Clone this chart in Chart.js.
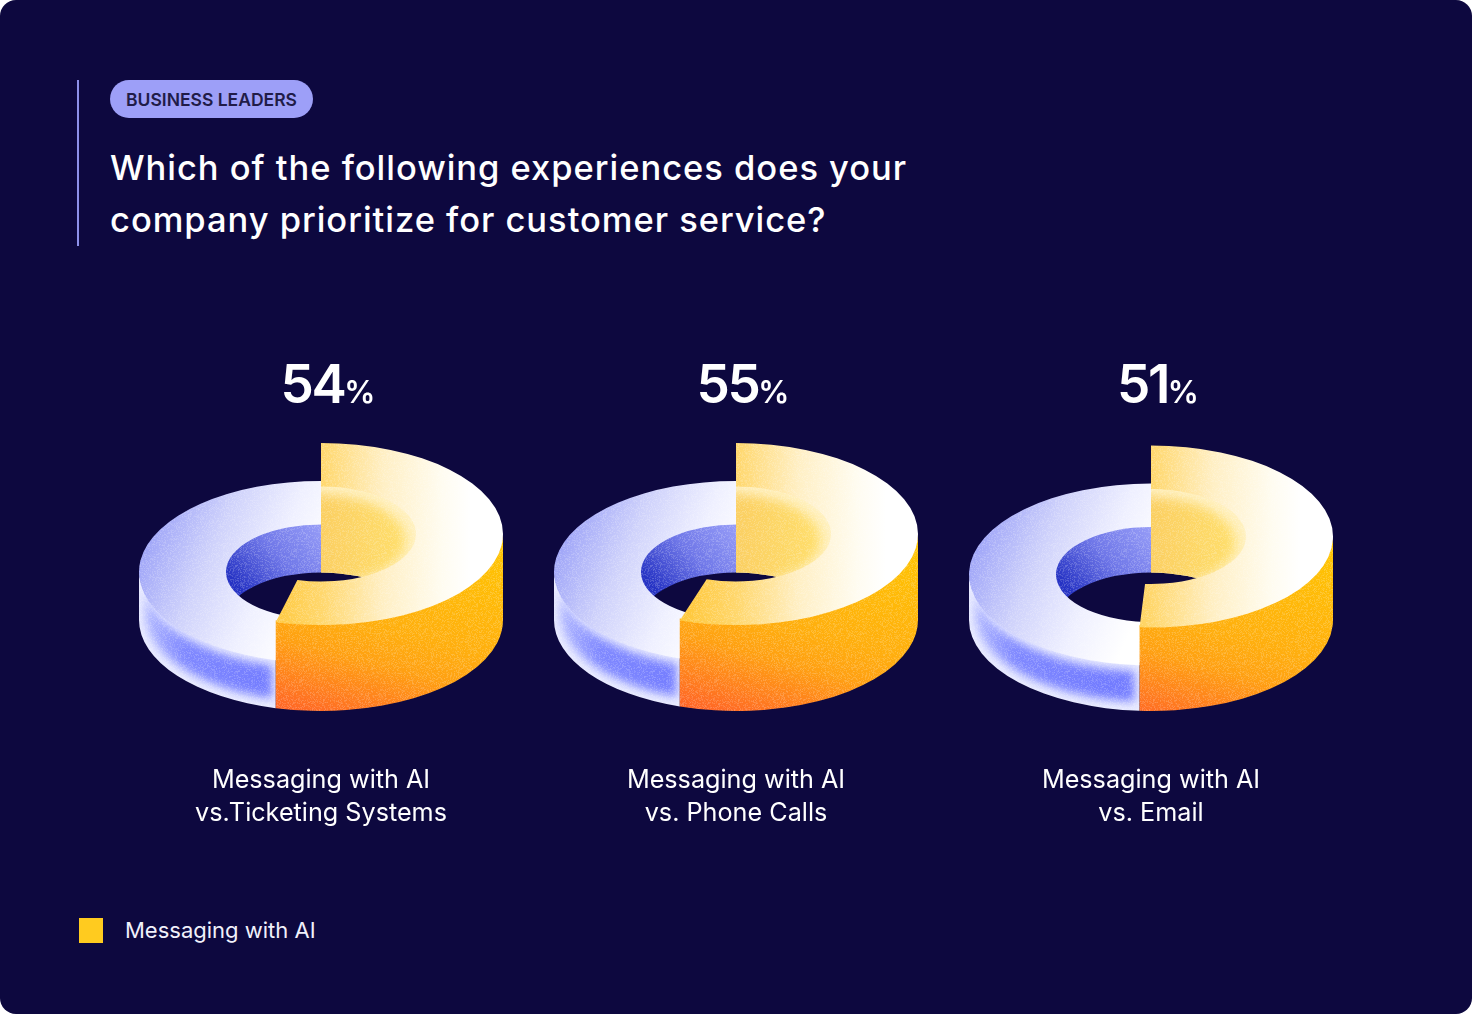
<!DOCTYPE html>
<html lang="en">
<head>
    <meta charset="utf-8">
    <script src="https://cdn.jsdelivr.net/npm/chart.js"></script>
    <style>
        html, body { margin: 0; padding: 0; background: #ffffff; }
        #panel {
            position: relative;
            width: 1472px;
            height: 1014px;
            background: #0d083f;
            border-radius: 16px;
            overflow: hidden;
            font-family: Inter, sans-serif;
            color: #ffffff;
        }
        #rule { position: absolute; left: 77px; top: 80px; width: 2px; height: 166px; background: #8d90ea; }
        #badge {
            position: absolute; left: 110px; top: 80px; width: 203px; height: 38px;
            border-radius: 19px; background: #9d9ff8; color: #211c48;
            font-size: 17.5px; font-weight: 600; line-height: 39px; text-align: center; white-space: nowrap;
        }
        #title { position: absolute; left: 110px; top: 142px; font-size: 34.5px; font-weight: 500; line-height: 52px; white-space: nowrap; letter-spacing: 0.97px; }
        canvas { position: absolute; top: 400px; }
        .pct { position: absolute; top: 352px; width: 200px; text-align: center; font-size: 53px; font-weight: 600; line-height: 64px; letter-spacing: -2.5px; white-space: nowrap; }
        .pct span { font-size: 31px; letter-spacing: 0; }
        .label { position: absolute; top: 763px; width: 340px; text-align: center; font-size: 25.2px; line-height: 33px; white-space: nowrap; }
        #swatch { position: absolute; left: 79px; top: 918px; width: 24px; height: 25px; background: #ffcb1f; }
        #legend-text { position: absolute; left: 125px; top: 915px; font-size: 22px; line-height: 30px; white-space: nowrap; color: #f1f1fb; }
    </style>
</head>
<body>
    <div id="panel">
        <div id="rule"></div>
        <div id="badge">BUSINESS LEADERS</div>
        <div id="title">Which of the following experiences does your<br>company prioritize for customer service?</div>
        <div id="swatch"></div>
        <div id="legend-text">Messaging with AI</div>
    </div>
    <script>
        // Chart values
        const seriesNames = ['Messaging with AI', 'Other'];
        const categories = [
            ['Messaging with AI', 'vs.Ticketing Systems'],
            ['Messaging with AI', 'vs. Phone Calls'],
            ['Messaging with AI', 'vs. Email']
        ];
        const aiValues = [54, 55, 51];
        const otherValues = [46, 45, 49];

        const panel = document.getElementById('panel');
        const centers = [321, 736, 1151];
        const size = 364;
        const squash = 0.5;

        // fine speckle laid over the rings (a fixed hash so it never changes)
        const grain = document.createElement('canvas');
        grain.width = grain.height = 256;
        (function () {
            const g = grain.getContext('2d');
            const img = g.createImageData(256, 256);
            for (let y = 0; y < 256; y++) {
                for (let x = 0; x < 256; x++) {
                    const h = Math.sin(x * 12.9898 + y * 78.233) * 43758.5453;
                    const n = h - Math.floor(h);
                    const i = (y * 256 + x) * 4;
                    img.data[i] = img.data[i + 1] = img.data[i + 2] = 255;
                    img.data[i + 3] = n > 0.5 ? (n - 0.5) * 110 : 0;
                }
            }
            g.putImageData(img, 0, 0);
        })();

        function gradient(ctx, x0, y0, x1, y1, stops) {
            const g = ctx.createLinearGradient(x0, y0, x1, y1);
            stops.forEach(s => g.addColorStop(s[0], s[1]));
            return g;
        }

        // band between the same angle range on two stacked ellipses
        // rTop/yTop are pushed a bit under the top face so no seam shows
        function wallPath(ctx, cx, rTop, rBase, yTop, yBase, a0, a1) {
            ctx.beginPath();
            ctx.ellipse(cx, yTop, rTop, rTop * squash, 0, a0, a1, false);
            ctx.ellipse(cx, yBase, rBase, rBase * squash, 0, a1, a0, true);
            ctx.closePath();
        }

        function drawTop(ctx, arc, yTop) {
            ctx.save();
            ctx.translate(arc.x, yTop);
            ctx.scale(1, squash);
            ctx.translate(-arc.x, -arc.y);
            arc.draw(ctx);
            ctx.restore();
        }

        // the doughnut is drawn by Chart.js arcs, only tilted and given walls here
        const ringPlugin = {
            id: 'ring3d',
            beforeDatasetDraw(chart, args, opts) {
                const ctx = chart.ctx;
                const ai = chart.getDatasetMeta(0).data[0];
                const other = chart.getDatasetMeta(0).data[1];
                const cx = ai.x;
                const R = ai.outerRadius;
                const r = ai.innerRadius;
                const base = ai.y + opts.base;
                const yAi = ai.y + opts.aiTop;
                const yOther = ai.y + opts.otherTop;
                const split = ai.endAngle;

                ctx.save();
                // far inner wall, blue side
                wallPath(ctx, cx, r + 2, r, yOther, base, Math.PI, 1.5 * Math.PI);
                ctx.fillStyle = gradient(ctx, cx + 10, yOther - 47, cx - 70, yOther + 28,
                    [[0, '#9ba1f9'], [0.55, '#6f77e8'], [1, '#2633c4']]);
                ctx.fill();

                // outer wall, blue side
                ctx.save();
                wallPath(ctx, cx, R, R, yOther - 2, base, split, Math.PI);
                ctx.clip();
                ctx.fillStyle = '#e9ebff';
                ctx.fillRect(cx - R - 5, yOther - 5, R * 2, 250);
                ctx.filter = 'blur(5px)';
                wallPath(ctx, cx, R - 6, R - 6, yOther + 9, base - 6, split + 0.03, Math.PI - 0.02);
                ctx.fillStyle = gradient(ctx, cx - R, 0, cx - 50, 0,
                    [[0, '#b9bfff'], [0.35, '#7f88ff'], [1, '#737cff']]);
                ctx.fill();
                ctx.restore();

                drawTop(ctx, other, yOther);

                // far inner wall, yellow side
                ctx.save();
                wallPath(ctx, cx, r + 2, r, yAi, base, -0.5 * Math.PI, 0);
                ctx.lineTo(cx, base);
                ctx.clip();
                ctx.fillStyle = '#fff1c0';
                ctx.fillRect(cx, yAi - 60, r + 10, 160);
                ctx.filter = 'blur(6px)';
                ctx.beginPath();
                ctx.ellipse(cx - 8, yAi + 6, r - 2, (r - 2) * squash, 0, 0, Math.PI * 2);
                ctx.fillStyle = gradient(ctx, cx, 0, cx + r, 0, [[0, '#fbcf62'], [1, '#ffe06c']]);
                ctx.fill();
                ctx.restore();

                // outer wall, yellow side
                wallPath(ctx, cx, R, R, yAi - 2, base, 0, split);
                ctx.fillStyle = gradient(ctx, cx + 180, yAi, cx + 123, yAi + 217,
                    [[0, '#ffc700'], [0.55, '#ffae0e'], [0.7, '#ffa012'], [1, '#ff6626']]);
                ctx.fill();

                drawTop(ctx, ai, yAi);

                ctx.globalCompositeOperation = 'source-atop';
                ctx.fillStyle = ctx.createPattern(grain, 'repeat');
                ctx.fillRect(0, 0, chart.width, chart.height);
                ctx.restore();
                return false;
            }
        };

        function buildRing(index) {
            const canvas = document.createElement('canvas');
            canvas.width = size;
            canvas.height = size;
            canvas.style.left = (centers[index] - size / 2) + 'px';
            panel.appendChild(canvas);

            // third ring sits a little lower in the reference
            const offset = index === 2 ? 2.5 : 0;

            new Chart(canvas.getContext('2d'), {
                type: 'doughnut',
                data: {
                    labels: seriesNames,
                    datasets: [{
                        data: [aiValues[index], otherValues[index]],
                        borderWidth: 0,
                        backgroundColor: function (context) {
                            const c = context.chart.ctx;
                            const mid = size / 2;
                            if (context.dataIndex === 0) {
                                return gradient(c, mid - 45, 0, mid + 150, 0,
                                    [[0, '#ffc93f'], [0.25, '#ffd870'], [0.55, '#ffefc4'], [0.85, '#fffcf0'], [1, '#ffffff']]);
                            }
                            return gradient(c, 0, mid - 20, mid, mid + 20,
                                [[0, '#a0a6f8'], [0.35, '#cfd2fb'], [0.7, '#eff0ff'], [1, '#ffffff']]);
                        }
                    }]
                },
                options: {
                    responsive: false,
                    animation: false,
                    cutout: '52.2%',
                    events: [],
                    plugins: {
                        legend: { display: false },
                        tooltip: { enabled: false },
                        ring3d: { aiTop: -48 + offset, otherTop: -10 + offset, base: 38 }
                    }
                },
                plugins: [ringPlugin]
            });

            const pct = document.createElement('div');
            pct.className = 'pct';
            pct.style.left = (centers[index] + 7 - 100) + 'px';
            pct.innerHTML = aiValues[index] + '<span>%</span>';
            panel.appendChild(pct);

            const label = document.createElement('div');
            label.className = 'label';
            label.style.left = (centers[index] - 170) + 'px';
            label.innerHTML = categories[index].join('<br>');
            panel.appendChild(label);
        }

        categories.forEach((c, i) => buildRing(i));
    </script>
</body>
</html>
